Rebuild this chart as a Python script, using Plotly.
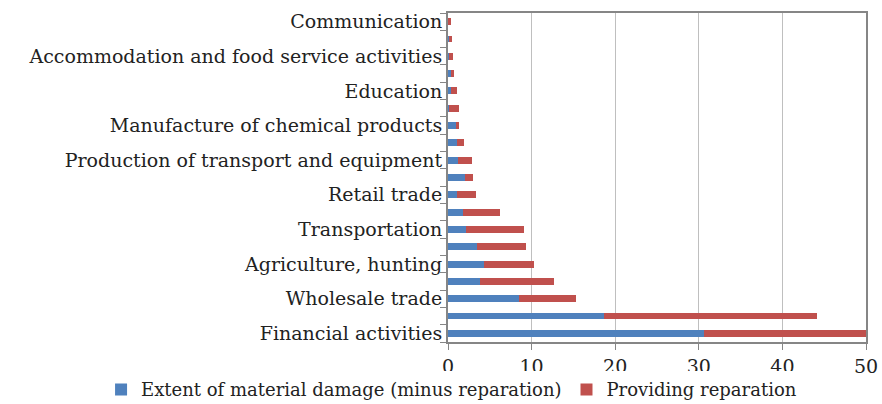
import plotly.graph_objects as go

# Categories from bottom to top (blank = unlabeled category in the original)
categories = [
    "Financial activities", "", "Wholesale trade", "", "Agriculture, hunting", "",
    "Transportation", "", "Retail trade", "", "Production of transport and equipment", "",
    "Manufacture of chemical products", "", "Education", "",
    "Accommodation and food service activities", "", "Communication",
]
damage = [30.6, 18.6, 8.5, 3.85, 4.25, 3.5, 2.15, 1.85, 1.1, 2.05, 1.25, 1.1, 0.9, 0.1, 0.3, 0.3, 0.1, 0.15, 0.05]
totals = [50.0, 44.1, 15.3, 12.65, 10.25, 9.3, 9.1, 6.2, 3.35, 2.95, 2.85, 1.9, 1.3, 1.35, 1.05, 0.75, 0.55, 0.45, 0.35]
reparation = [round(t - d, 3) for t, d in zip(totals, damage)]
x_ticks = [0, 10, 20, 30, 40, 50]

pos = list(range(len(categories)))
font_family = "DejaVu Serif"

fig = go.Figure()
fig.add_trace(go.Bar(y=pos, x=damage, orientation="h", name="Extent of material damage (minus reparation)",
                     marker=dict(color="#4F81BD", line=dict(width=0))))
fig.add_trace(go.Bar(y=pos, x=reparation, orientation="h", name="Providing reparation",
                     marker=dict(color="#C0504D", line=dict(width=0))))

fig.update_layout(
    barmode="stack",
    bargap=0.6,
    width=882, height=404,
    margin=dict(l=448, r=16, t=13, b=62, autoexpand=False),
    paper_bgcolor="white", plot_bgcolor="white",
    font=dict(family=font_family, size=19, color="#222"),
    showlegend=True,
    legend=dict(orientation="h", traceorder="normal", x=-0.83, xanchor="left",
                y=-0.145, yanchor="middle",
                font=dict(size=18), itemwidth=30, tracegroupgap=0),
    xaxis=dict(range=[0, 50], tickvals=x_ticks, showgrid=True, gridcolor="#BFBFBF", gridwidth=1,
               showline=True, linecolor="#868686", linewidth=2, mirror=True, automargin=False,
               ticks="outside", ticklen=6, tickcolor="#868686", zeroline=False),
    yaxis=dict(range=[-0.5, len(categories) - 0.5], tickvals=pos, ticktext=categories,
               showgrid=False, showline=True, linecolor="#868686", linewidth=2, mirror=True,
               ticks="", zeroline=False, automargin=False,
               minor=dict(tickvals=[p - 0.5 for p in pos] + [len(categories) - 0.5],
                          ticks="outside", ticklen=6, tickcolor="#868686", showgrid=False)),
)

# remove the default page margin so the 882x404 figure fills the window exactly
fig.write_html("out.html", config={"displayModeBar": False},
               post_script="document.body.style.margin='0';document.body.style.overflow='hidden';")
